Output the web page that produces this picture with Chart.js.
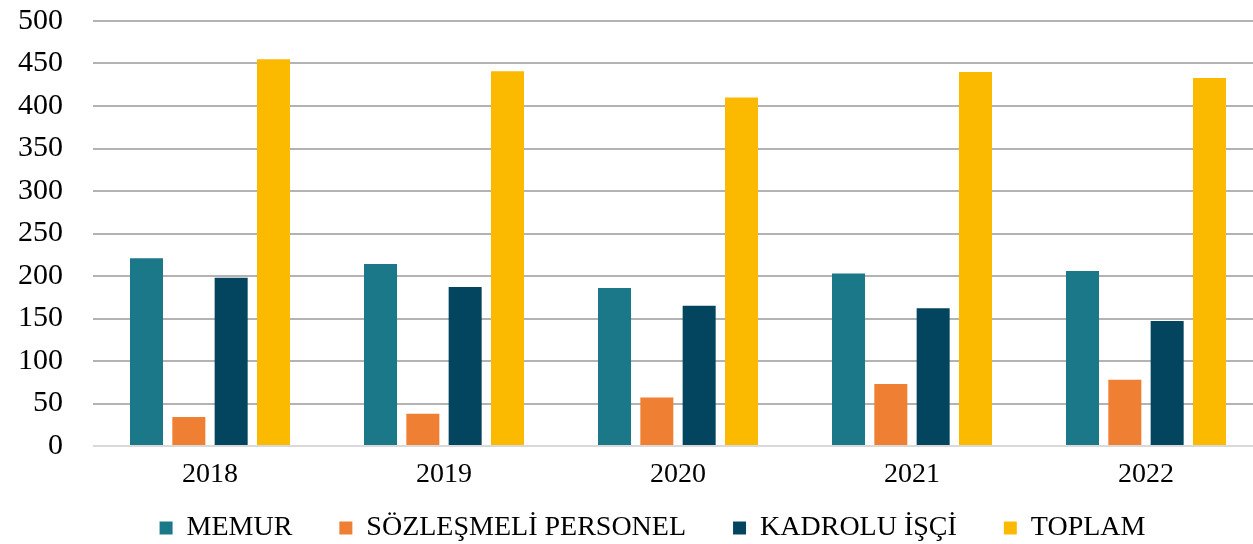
<!DOCTYPE html>
<html>
<head>
<meta charset="utf-8">
<script src="https://cdn.jsdelivr.net/npm/chart.js@4"></script>
<style>
  html, body { margin: 0; padding: 0; background: #fff; overflow: hidden; }
  #chart { display: block; }
</style>
</head>
<body>
<canvas id="chart" width="1305" height="544"></canvas>
<script>
const years = ['2018', '2019', '2020', '2021', '2022'];
const memur = [221, 214, 186, 203, 206];
const sozlesmeli = [34, 38, 57, 73, 78];
const kadrolu = [198, 187, 165, 162, 147];
const toplam = [455, 441, 410, 440, 433];

const serif = "'Liberation Serif', 'Times New Roman', serif";

// legend sits lower than its natural slot; move it before drawing
const legendMover = {
    id: 'legendMover',
    beforeDraw(chart) {
        const lg = chart.legend;
        lg.top = 467;
        lg.bottom = 544;
        lg.height = 77;
    }
};

const ctx = document.getElementById('chart');
const chart = new Chart(ctx, {
    type: 'bar',
    data: {
        labels: years,
        datasets: [
            { label: 'MEMUR', data: memur, backgroundColor: '#1b7889' },
            { label: 'SÖZLEŞMELİ PERSONEL', data: sozlesmeli, backgroundColor: '#ef7f32' },
            { label: 'KADROLU İŞÇİ', data: kadrolu, backgroundColor: '#03455f' },
            { label: 'TOPLAM', data: toplam, backgroundColor: '#fbba00' }
        ]
    },
    options: {
        responsive: false,
        animation: false,
        categoryPercentage: 0.7235,
        barPercentage: 0.78,
        layout: { padding: { top: 21, left: 0, right: 0, bottom: 0 } },
        plugins: {
            tooltip: { enabled: false },
            legend: {
                position: 'bottom',
                maxHeight: 20,
                labels: {
                    boxWidth: 13,
                    boxHeight: 13,
                    padding: 47,
                    color: '#000',
                    font: { family: serif, size: 28 }
                }
            }
        },
        scales: {
            x: {
                grid: { display: false },
                border: { display: false },
                ticks: { color: '#000', padding: 4, maxRotation: 0, font: { family: serif, size: 28 } },
                afterFit: scale => {
                    scale.height = 78;
                    scale.paddingLeft = 0;
                    scale.paddingRight = 0;
                }
            },
            y: {
                min: 0,
                max: 500,
                ticks: { stepSize: 50, color: '#000', padding: 30, font: { family: serif, size: 30 } },
                grid: {
                    drawTicks: false,
                    lineWidth: 2,
                    color: c => (c.tick && c.tick.value === 0) ? '#d9d9d9' : '#b3b3b3'
                },
                border: { display: false },
                afterFit: scale => {
                    scale.width = 93;
                    scale.paddingTop = 0;
                    scale.paddingBottom = 0;
                }
            },
            spacer: {
                type: 'linear',
                position: 'right',
                display: true,
                grid: { display: false },
                border: { display: false },
                ticks: { display: false },
                afterFit: scale => {
                    scale.width = 42;
                    scale.paddingTop = 0;
                    scale.paddingBottom = 0;
                }
            }
        }
    },
    plugins: [legendMover]
});
</script>
</body>
</html>
